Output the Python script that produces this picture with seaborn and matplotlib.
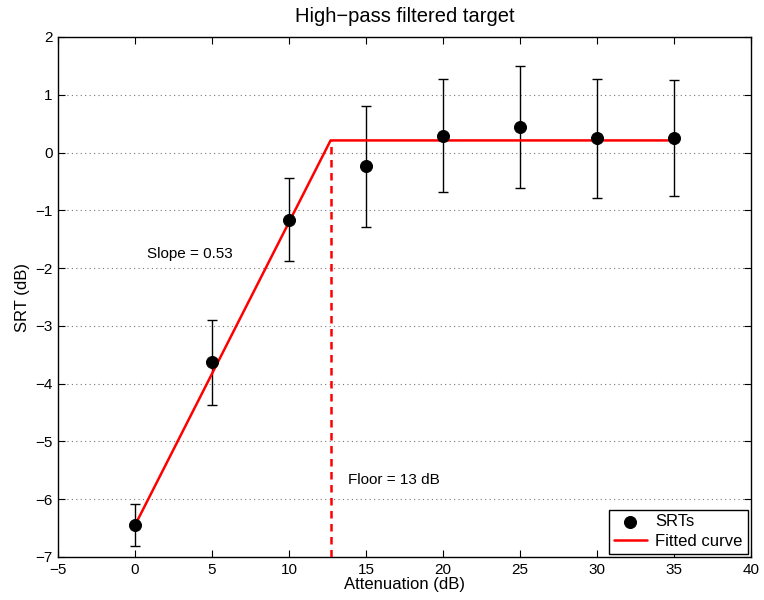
import matplotlib
matplotlib.use("Agg")
import matplotlib.pyplot as plt
import seaborn as sns
import pandas as pd
import numpy as np

attenuation = [0, 5, 10, 15, 20, 25, 30, 35]
srt = [-6.45, -3.63, -1.17, -0.24, 0.29, 0.44, 0.25, 0.25]
err_upper = [-6.09, -2.90, -0.44, 0.81, 1.27, 1.50, 1.28, 1.26]
err_lower = [-6.81, -4.37, -1.88, -1.29, -0.69, -0.62, -0.78, -0.75]

fit_x = [0, 12.7, 35]
fit_y = [-6.45, 0.21, 0.21]
floor_x = 12.7

xticks = list(range(-5, 41, 5))
yticks = list(range(-7, 3, 1))

sns.set_theme(style="white")
plt.rcParams['font.family'] = ['Liberation Sans', 'DejaVu Sans']
plt.rcParams['text.color'] = 'black'
plt.rcParams['axes.labelcolor'] = 'black'
plt.rcParams['xtick.color'] = 'black'
plt.rcParams['ytick.color'] = 'black'

fig = plt.figure(figsize=(7.64, 6.0), dpi=100)
ax = fig.add_axes([58/764, 43/600, (751-58)/764, (557-37)/600])

df = pd.DataFrame({"x": attenuation, "y": srt})
fit_df = pd.DataFrame({"x": fit_x, "y": fit_y})

yerr = np.array([np.array(srt) - np.array(err_lower), np.array(err_upper) - np.array(srt)])
ax.errorbar(attenuation, srt, yerr=yerr, fmt='none', ecolor='black', elinewidth=1.0,
            capsize=3.7, capthick=1.0, zorder=2)

# vertical dashed floor line
ax.plot([floor_x, floor_x], [-7, fit_y[1]], color='red', linestyle='--', linewidth=1.8,
        dashes=(3, 2.2), zorder=3)

sns.lineplot(data=fit_df, x="x", y="y", ax=ax, color='red', linewidth=1.8,
             label='Fitted curve', zorder=4)
sns.scatterplot(data=df, x="x", y="y", ax=ax, color='black', s=75, edgecolor='black',
                label='SRTs', zorder=5)

ax.set_xlim(-5, 40)
ax.set_ylim(-7, 2)
ax.set_xticks(xticks)
ax.set_yticks(yticks)
ax.set_xticklabels([str(t).replace('-', '\u2212') for t in xticks])
ax.set_yticklabels([str(t).replace('-', '\u2212') for t in yticks])

ax.yaxis.grid(True, linestyle=(0, (1, 3)), color='#777777', linewidth=0.8)
ax.xaxis.grid(False)

for s in ax.spines.values():
    s.set_color('black')
    s.set_linewidth(1.0)
    s.set_visible(True)

ax.tick_params(axis='both', which='both', direction='in', length=5, width=0.8,
               colors='black', labelsize=11, top=True, right=True,
               bottom=True, left=True, pad=4)

ax.set_xlabel('Attenuation (dB)', fontsize=12, labelpad=0)
ax.set_ylabel('SRT (dB)', fontsize=12, labelpad=4)
ax.set_title('High\u2212pass filtered target', fontsize=14.5, pad=11)

ax.text(0.75, -1.76, 'Slope = 0.53', fontsize=11, va='center', ha='left')
ax.text(13.8, -5.67, 'Floor = 13 dB', fontsize=11, va='center', ha='left')

handles, labels = ax.get_legend_handles_labels()
order = [labels.index('SRTs'), labels.index('Fitted curve')]
leg = ax.legend([handles[i] for i in order], [labels[i] for i in order],
                loc='lower right', fontsize=12, frameon=True, fancybox=False,
                edgecolor='black', framealpha=1, borderaxespad=0.2,
                handlelength=2.0, borderpad=0.3, labelspacing=0.25, handletextpad=0.5)
leg.get_frame().set_linewidth(1.0)

fig.savefig('out.png', dpi=100)
